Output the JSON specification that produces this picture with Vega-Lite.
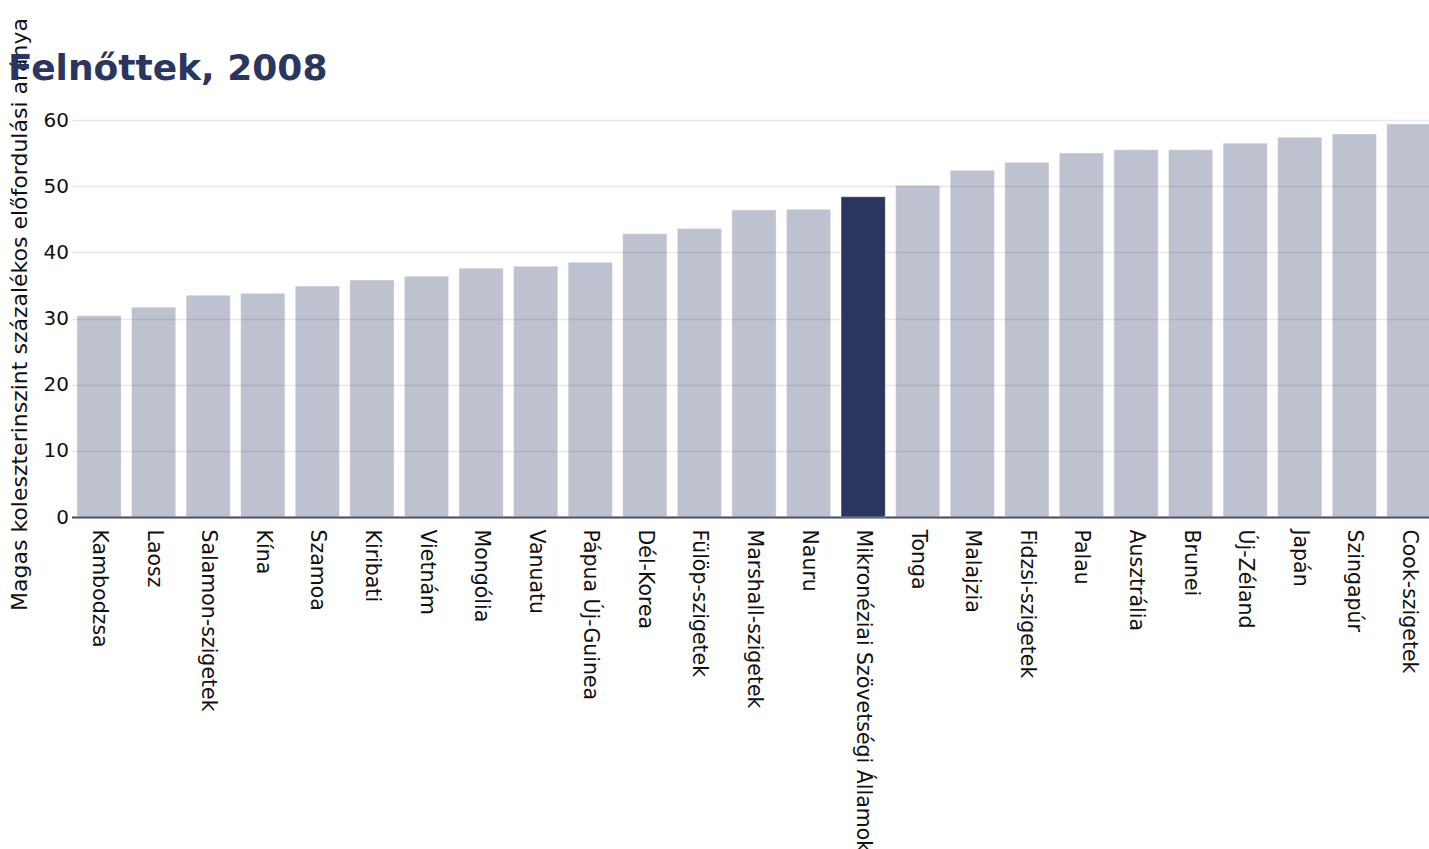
{
  "$schema": "https://vega.github.io/schema/vega-lite/v6.json",
  "width": 1365,
  "height": 397,
  "autosize": {"type": "none"},
  "padding": {"left": 71.5, "top": 120, "right": 0, "bottom": 332},
  "background": "white",
  "title": {
    "text": "Magas koleszterinszint",
    "subtitle": "Felnőttek, 2008",
    "anchor": "start",
    "frame": "group",
    "dx": -63.5,
    "dy": 10,
    "offset": -60,
    "font": "DejaVu Sans",
    "fontSize": 36,
    "fontWeight": "bold",
    "color": "#2a3560",
    "subtitleFont": "DejaVu Sans",
    "subtitleFontSize": 36,
    "subtitleFontWeight": "bold",
    "subtitleColor": "#2a3560",
    "subtitlePadding": 51
  },
  "data": {
    "values": [
      {"country": "Kambodzsa", "value": 30.4},
      {"country": "Laosz", "value": 31.7},
      {"country": "Salamon-szigetek", "value": 33.5},
      {"country": "Kína", "value": 33.8},
      {"country": "Szamoa", "value": 34.9},
      {"country": "Kiribati", "value": 35.8},
      {"country": "Vietnám", "value": 36.4},
      {"country": "Mongólia", "value": 37.6},
      {"country": "Vanuatu", "value": 37.9},
      {"country": "Pápua Új-Guinea", "value": 38.5},
      {"country": "Dél-Korea", "value": 42.8},
      {"country": "Fülöp-szigetek", "value": 43.6},
      {"country": "Marshall-szigetek", "value": 46.4},
      {"country": "Nauru", "value": 46.5},
      {"country": "Mikronéziai Szövetségi Államok", "value": 48.4},
      {"country": "Tonga", "value": 50.1},
      {"country": "Malajzia", "value": 52.4},
      {"country": "Fidzsi-szigetek", "value": 53.6},
      {"country": "Palau", "value": 55.0},
      {"country": "Ausztrália", "value": 55.5},
      {"country": "Brunei", "value": 55.5},
      {"country": "Új-Zéland", "value": 56.5},
      {"country": "Japán", "value": 57.4},
      {"country": "Szingapúr", "value": 57.9},
      {"country": "Cook-szigetek", "value": 59.4}
    ]
  },
  "mark": {"type": "bar", "stroke": "white", "strokeWidth": 1, "strokeOpacity": 0.4},
  "encoding": {
    "x": {
      "field": "country",
      "type": "nominal",
      "sort": null,
      "scale": {"paddingInner": 0.19, "paddingOuter": 0.1},
      "axis": {
        "title": null,
        "labelAngle": 90,
        "labelAlign": "left",
        "labelBaseline": "middle",
        "labelFont": "DejaVu Sans",
        "labelFontSize": 20.5,
        "labelColor": "#111",
        "labelPadding": 12,
        "labelLimit": 500,
        "labelOverlap": false,
        "ticks": false,
        "domain": true,
        "domainColor": "#444a5e",
        "domainWidth": 2,
        "grid": false
      }
    },
    "y": {
      "field": "value",
      "type": "quantitative",
      "scale": {"domain": [0, 60]},
      "axis": {
        "title": "Magas koleszterinszint százalékos előfordulási aránya",
        "titleFont": "DejaVu Sans",
        "titleFontSize": 22,
        "titleFontWeight": "normal",
        "titleColor": "#111",
        "titlePadding": 12,
        "titleY": 194,
        "labelFont": "DejaVu Sans",
        "labelFontSize": 20,
        "labelColor": "#111",
        "labelPadding": 3,
        "labelOverlap": false,
        "ticks": false,
        "domain": false,
        "values": [0, 10, 20, 30, 40, 50, 60],
        "grid": true,
        "gridColor": "#e8e8ec",
        "gridWidth": 1.5
      }
    },
    "color": {
      "value": "#2a3560"
    },
    "opacity": {
      "condition": {"test": "datum.country === 'Mikronéziai Szövetségi Államok'", "value": 1},
      "value": 0.3
    }
  },
  "config": {
    "view": {"stroke": null},
    "font": "DejaVu Sans"
  }
}
